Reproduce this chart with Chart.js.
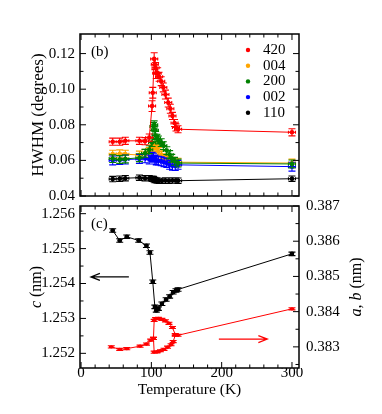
<!DOCTYPE html>
<html>
<head>
<meta charset="utf-8">
<script src="https://cdn.jsdelivr.net/npm/chart.js@4.4.1/dist/chart.umd.min.js"></script>
<style>
  html, body { margin: 0; padding: 0; background: #fff; }
  #wrap { position: relative; width: 382px; height: 414px; }
  canvas { position: absolute; left: 0; }
  #topChart { top: 0; }
  #botChart { top: 190px; }
</style>
</head>
<body>
<div id="wrap">
  <canvas id="topChart" width="382" height="210" style="width:382px;height:210px"></canvas>
  <canvas id="botChart" width="382" height="224" style="width:382px;height:224px"></canvas>
</div>
<script>
// ---- panel (b): HWHM (degrees) vs temperature (K) ----
const t420 = [45, 55, 63, 83, 91, 97, 101, 102, 104, 105, 106, 107, 109, 111, 114, 117, 120, 124, 127, 130, 133, 135, 138, 300];
const w420 = [0.0705, 0.0705, 0.0710, 0.0710, 0.0708, 0.0728, 0.0905, 0.0980, 0.1170, 0.1140, 0.1120, 0.1090, 0.1090, 0.1070, 0.1045, 0.1010, 0.0970, 0.0925, 0.0890, 0.0850, 0.0810, 0.0785, 0.0775, 0.0758];
const e420 = [0.0020, 0.0020, 0.0020, 0.0020, 0.0020, 0.0020, 0.0030, 0.0030, 0.0035, 0.0030, 0.0030, 0.0030, 0.0030, 0.0025, 0.0025, 0.0025, 0.0025, 0.0025, 0.0025, 0.0020, 0.0020, 0.0020, 0.0020, 0.0020];

const t004 = [45, 55, 63, 83, 91, 97, 101, 103, 105, 107, 110, 114, 118, 122, 126, 130, 134, 138, 300];
const w004 = [0.0635, 0.0637, 0.0635, 0.0630, 0.0640, 0.0650, 0.0665, 0.0680, 0.0685, 0.0670, 0.0650, 0.0630, 0.0615, 0.0605, 0.0600, 0.0595, 0.0590, 0.0590, 0.0585];

const t200 = [45, 55, 63, 83, 91, 97, 101, 103, 104, 105, 106, 108, 110, 114, 117, 122, 126, 129, 133, 138, 300];
const w200 = [0.0610, 0.0605, 0.0608, 0.0615, 0.0640, 0.0660, 0.0700, 0.0790, 0.0800, 0.0770, 0.0740, 0.0725, 0.0715, 0.0700, 0.0683, 0.0655, 0.0633, 0.0612, 0.0595, 0.0585, 0.0580];

const t002 = [45, 55, 63, 83, 91, 97, 101, 103, 105, 107, 110, 114, 118, 122, 126, 130, 134, 138, 300];
const w002 = [0.0600, 0.0602, 0.0605, 0.0608, 0.0612, 0.0605, 0.0620, 0.0615, 0.0605, 0.0600, 0.0598, 0.0595, 0.0590, 0.0585, 0.0575, 0.0570, 0.0568, 0.0575, 0.0565];

const t110 = [45, 55, 63, 83, 91, 97, 101, 103, 105, 108, 111, 115, 120, 125, 130, 135, 138, 300];
const w110 = [0.0495, 0.0497, 0.0500, 0.0503, 0.0500, 0.0500, 0.0497, 0.0495, 0.0490, 0.0487, 0.0485, 0.0485, 0.0487, 0.0486, 0.0487, 0.0487, 0.0486, 0.0497];

// ---- panel (c): lattice constants ----
const tC = [45, 55, 65, 82, 93, 98, 102, 105, 107, 110, 115, 121, 126, 131, 135, 138, 300];
const cNm = [1.25552, 1.25523, 1.25534, 1.25523, 1.25508, 1.25489, 1.25405, 1.25333, 1.25323, 1.25328, 1.25342, 1.25354, 1.25363, 1.25375, 1.25380, 1.25383, 1.25485];

const tA = [43, 55, 65, 84, 93, 99, 103, 104, 106, 110, 115, 120, 125, 130, 134, 138, 300];
const aNm = [0.38300, 0.38293, 0.38295, 0.38302, 0.38308, 0.38319, 0.38324, 0.38375, 0.38380, 0.38381, 0.38378, 0.38374, 0.38367, 0.38355, 0.38335, 0.38333, 0.38408];
const tB = [103, 104, 108, 113, 118, 123, 128, 131, 134];
const bNm = [0.38324, 0.38285, 0.38286, 0.38289, 0.38293, 0.38299, 0.38306, 0.38315, 0.38333];

// arrows pointing at the axis each curve belongs to
const arrowCx = [68, 14];   const arrowCy = 1.25419;
const arrowABx = [196, 265]; const arrowABy = 0.38322;

// ticks
const tempTicks = [0, 100, 200, 300];
const tempMinor = [20, 40, 60, 80, 120, 140, 160, 180, 220, 240, 260, 280];
const hwhmTicks = [0.04, 0.06, 0.08, 0.10, 0.12];
const hwhmMinor = [0.05, 0.07, 0.09, 0.11];
const cTicks = [1.252, 1.253, 1.254, 1.255, 1.256];
const cMinor = [1.2525, 1.2535, 1.2545, 1.2555];
const abTicks = [0.383, 0.384, 0.385, 0.386, 0.387];
const abMinor = [0.3825, 0.3835, 0.3845, 0.3855, 0.3865];

const FONT = '"Liberation Serif", "Times New Roman", serif';
const pts = (xs, ys) => xs.map((x, i) => ({ x: x, y: ys[i] }));

function inwardTicks(ctx, scale, values, len, side, a) {
  ctx.beginPath();
  values.forEach(v => {
    if (v < scale.min || v > scale.max) return;
    const p = scale.getPixelForValue(v);
    if (side === 'left') { ctx.moveTo(a.left, p); ctx.lineTo(a.left + len, p); }
    else if (side === 'right') { ctx.moveTo(a.right, p); ctx.lineTo(a.right - len, p); }
    else if (side === 'top') { ctx.moveTo(p, a.top); ctx.lineTo(p, a.top + len); }
    else { ctx.moveTo(p, a.bottom); ctx.lineTo(p, a.bottom - len); }
  });
  ctx.stroke();
}

function framePlugin(sides, tag) {
  return {
    id: 'frame',
    afterDraw(chart) {
      const ctx = chart.ctx, a = chart.chartArea;
      ctx.save();
      ctx.strokeStyle = '#000';
      ctx.lineWidth = 1;
      sides.forEach(s => {
        inwardTicks(ctx, chart.scales[s.axis], s.major, 6, s.side, a);
        inwardTicks(ctx, chart.scales[s.axis], s.minor, 3.5, s.side, a);
      });
      ctx.lineWidth = 1.5;
      ctx.strokeRect(a.left, a.top, a.right - a.left, a.bottom - a.top);
      ctx.fillStyle = '#000';
      ctx.font = '15px ' + FONT;
      ctx.textAlign = 'left';
      ctx.textBaseline = 'middle';
      ctx.fillText(tag, a.left + 11, a.top + 18);
      ctx.restore();
    }
  };
}

const errorBars = {
  id: 'errorBars',
  beforeDatasetDraw(chart, args) {
    const ds = chart.data.datasets[args.index];
    if (ds.yErr === undefined) return;
    const xs = chart.scales.x, ys = chart.scales[ds.yAxisID || 'y'];
    const ctx = chart.ctx;
    ctx.save();
    ctx.strokeStyle = ds.borderColor;
    ctx.lineWidth = 1.1;
    ctx.beginPath();
    ds.data.forEach((d, i) => {
      const ey = Array.isArray(ds.yErr) ? ds.yErr[i] : ds.yErr;
      const x = xs.getPixelForValue(d.x), y = ys.getPixelForValue(d.y);
      const y0 = ys.getPixelForValue(d.y - ey), y1 = ys.getPixelForValue(d.y + ey);
      const x0 = xs.getPixelForValue(d.x - ds.xErr), x1 = xs.getPixelForValue(d.x + ds.xErr);
      ctx.moveTo(x, y0); ctx.lineTo(x, y1);
      ctx.moveTo(x - 3.5, y0); ctx.lineTo(x + 3.5, y0);
      ctx.moveTo(x - 3.5, y1); ctx.lineTo(x + 3.5, y1);
      ctx.moveTo(x0, y); ctx.lineTo(x1, y);
      ctx.moveTo(x0, y - 1.5); ctx.lineTo(x0, y + 1.5);
      ctx.moveTo(x1, y - 1.5); ctx.lineTo(x1, y + 1.5);
    });
    ctx.stroke();
    ctx.restore();
  }
};

const insideLegend = {
  id: 'insideLegend',
  afterDraw(chart) {
    const ctx = chart.ctx, a = chart.chartArea;
    ctx.save();
    ctx.font = '15px ' + FONT;
    ctx.textAlign = 'left';
    ctx.textBaseline = 'middle';
    chart.data.datasets.forEach((ds, i) => {
      const y = a.top + 16 + i * 15.7;
      ctx.fillStyle = ds.borderColor;
      ctx.beginPath();
      ctx.arc(a.right - 51, y, 2.2, 0, 2 * Math.PI);
      ctx.fill();
      ctx.fillStyle = '#000';
      ctx.fillText(ds.label, a.right - 36, y);
    });
    ctx.restore();
  }
};

function drawArrow(ctx, x0, x1, y, color) {
  const dir = Math.sign(x1 - x0);
  ctx.strokeStyle = color;
  ctx.lineWidth = 1.2;
  ctx.beginPath();
  ctx.moveTo(x0, y); ctx.lineTo(x1, y);
  ctx.moveTo(x1 - dir * 9, y - 3.5); ctx.lineTo(x1, y); ctx.lineTo(x1 - dir * 9, y + 3.5);
  ctx.stroke();
}

function rotatedParts(ctx, parts, cx, cy, size) {
  let total = 0;
  const widths = parts.map(p => {
    ctx.font = (p[1] ? 'italic ' : '') + size + 'px ' + FONT;
    const w = ctx.measureText(p[0]).width;
    total += w;
    return w;
  });
  ctx.save();
  ctx.translate(cx, cy);
  ctx.rotate(-Math.PI / 2);
  ctx.textAlign = 'left';
  ctx.textBaseline = 'middle';
  ctx.fillStyle = '#000';
  let x = -total / 2;
  parts.forEach((p, i) => {
    ctx.font = (p[1] ? 'italic ' : '') + size + 'px ' + FONT;
    ctx.fillText(p[0], x, 0);
    x += widths[i];
  });
  ctx.restore();
}

const latticeExtras = {
  id: 'latticeExtras',
  afterDraw(chart) {
    const ctx = chart.ctx, a = chart.chartArea, xs = chart.scales.x;
    const yc = (a.top + a.bottom) / 2;
    ctx.save();
    drawArrow(ctx, xs.getPixelForValue(arrowCx[0]), xs.getPixelForValue(arrowCx[1]),
      chart.scales.y.getPixelForValue(arrowCy), '#000');
    drawArrow(ctx, xs.getPixelForValue(arrowABx[0]), xs.getPixelForValue(arrowABx[1]),
      chart.scales.y2.getPixelForValue(arrowABy), '#ff0000');
    ctx.restore();
    rotatedParts(ctx, [['c', true], [' (nm)', false]], 37, yc, 16);
    rotatedParts(ctx, [['a', true], [', ', false], ['b', true], [' (nm)', false]], 357, yc, 16);
  }
};

const tickFont = { family: FONT, size: 15 };
const fixTicks = arr => scale => { scale.ticks = arr.map(v => ({ value: v })); };

function line(label, color, xs, ys, yErr, xErr, extra) {
  return Object.assign({
    label: label, data: pts(xs, ys), showLine: true,
    borderColor: color, backgroundColor: color, borderWidth: 1,
    pointRadius: 2.3, pointHoverRadius: 2.3, pointBorderWidth: 0,
    yErr: yErr, xErr: xErr
  }, extra || {});
}

// lower "order" is painted on top: red, then green, blue, orange, black
new Chart(document.getElementById('topChart'), {
  type: 'scatter',
  data: {
    datasets: [
      line('420', '#ff0000', t420, w420, e420, 5, { order: 0 }),
      line('004', '#ffa500', t004, w004, 0.0022, 5, { order: 3 }),
      line('200', '#008000', t200, w200, 0.0022, 5, { order: 1 }),
      line('002', '#0000ff', t002, w002, 0.0025, 5, { order: 2 }),
      line('110', '#000000', t110, w110, 0.0015, 5, { order: 4 })
    ]
  },
  options: {
    responsive: false,
    animation: false,
    events: [],
    layout: { padding: { left: 0, right: 83, top: 34, bottom: 10 } },
    plugins: { legend: { display: false }, tooltip: { enabled: false } },
    scales: {
      x: { type: 'linear', min: -1.5, max: 310, display: false },
      y: {
        min: 0.04, max: 0.131,
        afterBuildTicks: fixTicks(hwhmTicks),
        afterFit: s => { s.width = 80; },
        grid: { display: false, drawTicks: false, tickLength: 0 },
        border: { display: false },
        ticks: { font: tickFont, color: '#000', padding: 5, callback: v => v.toFixed(2) },
        title: { display: true, text: 'HWHM (degrees)', color: '#000',
                 font: { family: FONT, size: 17 }, padding: { top: 28, bottom: 0 } }
      }
    }
  },
  plugins: [errorBars, insideLegend, framePlugin([
    { axis: 'y', side: 'left', major: hwhmTicks, minor: hwhmMinor },
    { axis: 'y', side: 'right', major: hwhmTicks, minor: hwhmMinor },
    { axis: 'x', side: 'top', major: tempTicks, minor: tempMinor },
    { axis: 'x', side: 'bottom', major: tempTicks, minor: tempMinor }
  ], '(b)')]
});

new Chart(document.getElementById('botChart'), {
  type: 'scatter',
  data: {
    datasets: [
      line('c', '#000000', tC, cNm, 0.00005, 2, { yAxisID: 'y' }),
      line('a', '#ff0000', tA, aNm, 0.00003, 2.5, { yAxisID: 'y2', pointRadius: 1.7 }),
      line('b', '#ff0000', tB, bNm, 0.00003, 2.5, { yAxisID: 'y2', pointRadius: 1.7 })
    ]
  },
  options: {
    responsive: false,
    animation: false,
    events: [],
    layout: { padding: { left: 0, right: 0, top: 15, bottom: 0 } },
    plugins: { legend: { display: false }, tooltip: { enabled: false } },
    scales: {
      x: {
        type: 'linear', min: -1.5, max: 310,
        afterBuildTicks: fixTicks(tempTicks),
        afterFit: s => { s.height = 46; },
        grid: { display: false, drawTicks: false, tickLength: 0 },
        border: { display: false },
        ticks: { font: tickFont, color: '#000', padding: -4, maxRotation: 0 },
        title: { display: true, text: 'Temperature (K)', color: '#000',
                 font: { family: FONT, size: 15.5 }, padding: { top: 0, bottom: 15 } }
      },
      y: {
        position: 'left', min: 1.25158, max: 1.25622,
        afterBuildTicks: fixTicks(cTicks),
        afterFit: s => { s.width = 80; },
        grid: { display: false, drawTicks: false, tickLength: 0 },
        border: { display: false },
        ticks: { font: tickFont, color: '#000', padding: 5, callback: v => v.toFixed(3) }
      },
      y2: {
        position: 'right', min: 0.3824, max: 0.387,
        afterBuildTicks: fixTicks(abTicks),
        afterFit: s => { s.width = 83; },
        grid: { display: false, drawTicks: false, tickLength: 0 },
        border: { display: false },
        ticks: { font: tickFont, color: '#000', padding: 7, callback: v => v.toFixed(3) }
      }
    }
  },
  plugins: [errorBars, latticeExtras, framePlugin([
    { axis: 'y', side: 'left', major: cTicks, minor: cMinor },
    { axis: 'y2', side: 'right', major: abTicks, minor: abMinor },
    { axis: 'x', side: 'top', major: tempTicks, minor: tempMinor },
    { axis: 'x', side: 'bottom', major: tempTicks, minor: tempMinor }
  ], '(c)')]
});
</script>
</body>
</html>
